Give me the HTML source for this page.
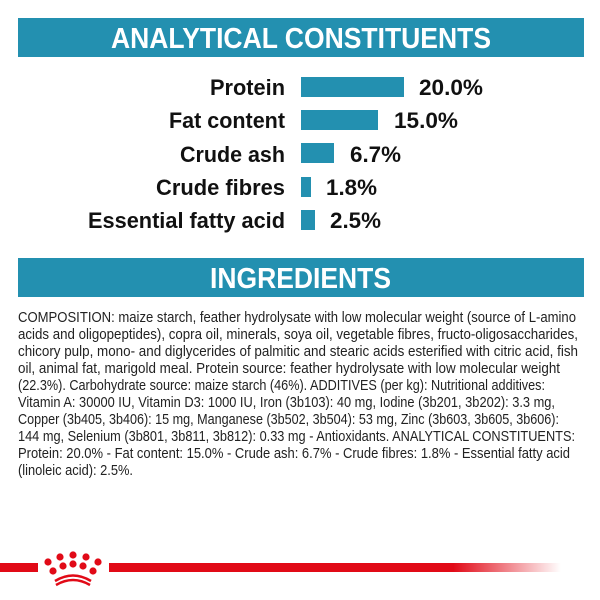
<!DOCTYPE html>
<html><head><meta charset="utf-8"><style>
html,body{margin:0;padding:0;background:#fff;}
svg{display:block;}
.h{font-family:"Liberation Sans Narrow","Liberation Sans",sans-serif;font-weight:bold;fill:#fff;}
.l{font-family:"Liberation Sans Narrow","Liberation Sans",sans-serif;font-weight:bold;fill:#111;font-size:22px;}
.t{font-family:"Liberation Sans Narrow","Liberation Sans",sans-serif;fill:#222;font-size:15px;}
</style></head><body>
<svg width="600" height="600" viewBox="0 0 600 600" xmlns="http://www.w3.org/2000/svg">
<defs><linearGradient id="g" x1="0" x2="1"><stop offset="0" stop-color="#e10a17"/><stop offset="1" stop-color="#e10a17" stop-opacity="0"/></linearGradient></defs>
<rect x="18" y="18" width="566" height="39" fill="#2390b0"/>
<text class="h" x="111" y="48" font-size="29" textLength="380" lengthAdjust="spacingAndGlyphs">ANALYTICAL CONSTITUENTS</text>
<g fill="#2390b0">
<rect x="301" y="77" width="103" height="20"/>
<rect x="301" y="110" width="77" height="20"/>
<rect x="301" y="143" width="33" height="20"/>
<rect x="301" y="177" width="10" height="20"/>
<rect x="301" y="210" width="14" height="20"/>
</g>
<g class="l" text-anchor="end">
<text x="285" y="95" textLength="75" lengthAdjust="spacingAndGlyphs">Protein</text>
<text x="285" y="128" textLength="116" lengthAdjust="spacingAndGlyphs">Fat content</text>
<text x="285" y="162" textLength="105" lengthAdjust="spacingAndGlyphs">Crude ash</text>
<text x="285" y="195" textLength="129" lengthAdjust="spacingAndGlyphs">Crude fibres</text>
<text x="285" y="228" textLength="197" lengthAdjust="spacingAndGlyphs">Essential fatty acid</text>
</g>
<g class="l">
<text x="419" y="95" textLength="64" lengthAdjust="spacingAndGlyphs">20.0%</text>
<text x="394" y="128" textLength="64" lengthAdjust="spacingAndGlyphs">15.0%</text>
<text x="350" y="162" textLength="51" lengthAdjust="spacingAndGlyphs">6.7%</text>
<text x="326" y="195" textLength="51" lengthAdjust="spacingAndGlyphs">1.8%</text>
<text x="330" y="228" textLength="51" lengthAdjust="spacingAndGlyphs">2.5%</text>
</g>
<rect x="18" y="258" width="566" height="39" fill="#2390b0"/>
<text class="h" x="210" y="288" font-size="29" textLength="181" lengthAdjust="spacingAndGlyphs">INGREDIENTS</text>
<g class="t">
<text x="18" y="322" textLength="558" lengthAdjust="spacingAndGlyphs">COMPOSITION: maize starch, feather hydrolysate with low molecular weight (source of L-amino</text>
<text x="18" y="339" textLength="560" lengthAdjust="spacingAndGlyphs">acids and oligopeptides), copra oil, minerals, soya oil, vegetable fibres, fructo-oligosaccharides,</text>
<text x="18" y="356" textLength="560" lengthAdjust="spacingAndGlyphs">chicory pulp, mono- and diglycerides of palmitic and stearic acids esterified with citric acid, fish</text>
<text x="18" y="373" textLength="542" lengthAdjust="spacingAndGlyphs">oil, animal fat, marigold meal. Protein source: feather hydrolysate with low molecular weight</text>
<text x="18" y="390" textLength="527" lengthAdjust="spacingAndGlyphs">(22.3%). Carbohydrate source: maize starch (46%). ADDITIVES (per kg): Nutritional additives:</text>
<text x="18" y="407" textLength="537" lengthAdjust="spacingAndGlyphs">Vitamin A: 30000 IU, Vitamin D3: 1000 IU, Iron (3b103): 40 mg, Iodine (3b201, 3b202): 3.3 mg,</text>
<text x="18" y="424" textLength="541" lengthAdjust="spacingAndGlyphs">Copper (3b405, 3b406): 15 mg, Manganese (3b502, 3b504): 53 mg, Zinc (3b603, 3b605, 3b606):</text>
<text x="18" y="441" textLength="557" lengthAdjust="spacingAndGlyphs">144 mg, Selenium (3b801, 3b811, 3b812): 0.33 mg - Antioxidants. ANALYTICAL CONSTITUENTS:</text>
<text x="18" y="458" textLength="552" lengthAdjust="spacingAndGlyphs">Protein: 20.0% - Fat content: 15.0% - Crude ash: 6.7% - Crude fibres: 1.8% - Essential fatty acid</text>
<text x="18" y="475" textLength="115" lengthAdjust="spacingAndGlyphs">(linoleic acid): 2.5%.</text>
</g>
<rect x="0" y="563" width="38" height="9" fill="#e10a17"/>
<rect x="109" y="563" width="345" height="9" fill="#e10a17"/>
<rect x="453" y="563" width="108" height="9" fill="url(#g)"/>
<g fill="#e10a17">
<circle cx="73" cy="555" r="3.6"/><circle cx="60" cy="557" r="3.6"/><circle cx="86" cy="557" r="3.6"/>
<circle cx="48" cy="562" r="3.6"/><circle cx="98" cy="562" r="3.6"/>
<circle cx="63" cy="566" r="3.6"/><circle cx="73" cy="564" r="3.6"/><circle cx="83" cy="566" r="3.6"/>
<circle cx="53" cy="571" r="3.6"/><circle cx="93" cy="571" r="3.6"/>
</g>
<path d="M55 581 Q73 570 91 581" stroke="#e10a17" stroke-width="2.5" fill="none"/>
<path d="M56 585 Q73 575 90 585" stroke="#e10a17" stroke-width="2.5" fill="none"/>
</svg>
</body></html>
